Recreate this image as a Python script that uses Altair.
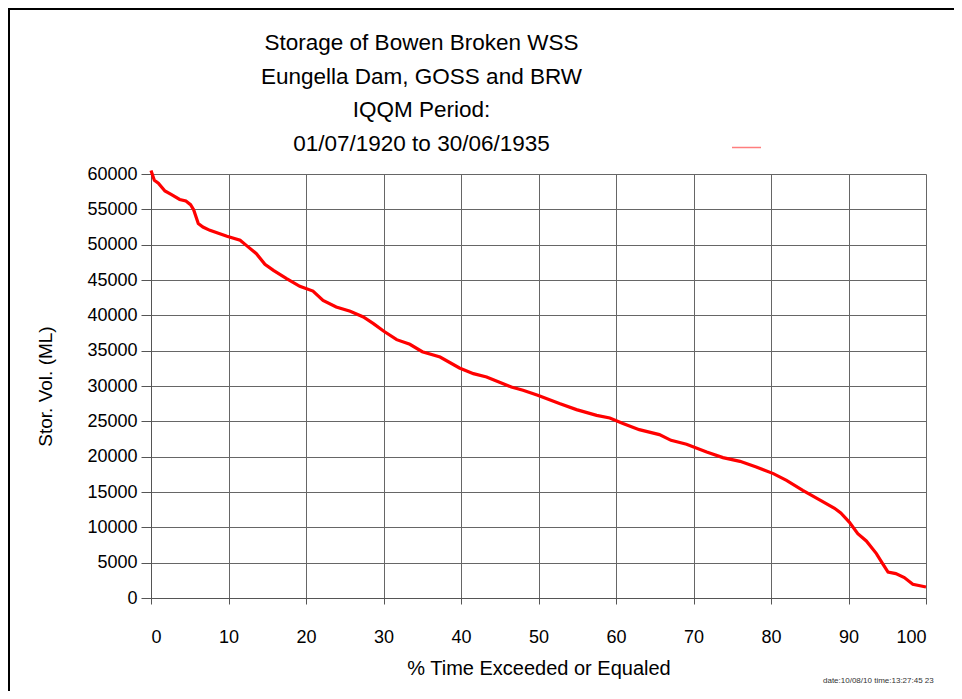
import altair as alt
import pandas as pd

# ---- data ----
pct_time = [0, 0.43, 0.95, 1.8, 2.65, 3.7, 4.5, 5.1, 5.5, 6.1, 6.7, 7.6, 9.8,
            11.5, 12.3, 13.6, 14.7, 15.8, 17.5, 19.2, 20.9, 22.2, 23.9, 25.7,
            27.4, 28.7, 30.0, 31.7, 33.4, 35.0, 37.3, 39.8, 41.6, 43.3, 46.5,
            48.0, 49.9, 52.7, 54.9, 57.5, 59.2, 60.9, 63.0, 65.6, 67.1, 69.1,
            71.7, 73.8, 76.0, 78.1, 80.3, 82.0, 84.1, 86.5, 88.2, 89.0, 90.1,
            91.2, 92.3, 93.6, 94.4, 95.1, 96.1, 97.2, 98.3, 100]
storage_ml = [60500, 59100, 58700, 57600, 57080, 56400, 56170, 55660, 54950,
              52980, 52500, 52030, 51180, 50620, 49900, 48730, 47220, 46370,
              45200, 44100, 43440, 42120, 41180, 40570, 39760, 38830, 37780,
              36560, 35900, 34850, 34100, 32550, 31750, 31270, 29860, 29390,
              28680, 27510, 26660, 25850, 25470, 24680, 23820, 23120, 22310,
              21750, 20660, 19870, 19340, 18540, 17600, 16650, 15240, 13750,
              12700, 12030, 10750, 9110, 8070, 6280, 4870, 3680, 3450, 2890,
              1940, 1560]
x_ticks = list(range(0, 101, 10))
y_ticks = list(range(0, 60001, 5000))
title_lines = ["Storage of Bowen Broken WSS", "Eungella Dam, GOSS and BRW",
               "IQQM Period:", "01/07/1920 to 30/06/1935"]
x_title = "% Time Exceeded or Equaled"
y_title = "Stor. Vol. (ML)"
series_names = ["Storage"]
stamp_text = ["date:10/08/10  time:13:27:45 23"]

df = pd.DataFrame({"pct": pct_time, "vol": storage_ml, "series": series_names[0]})

FONT = "Liberation Sans"
W, H = 775, 424
PAD = {"left": 143, "top": 166, "right": 28, "bottom": 93}

line = alt.Chart(df).mark_line(strokeWidth=3.2, clip=False).encode(
    x=alt.X("pct:Q", scale=alt.Scale(domain=[0, 100], nice=False, zero=False),
            axis=alt.Axis(values=x_ticks, title=x_title, tickSize=6,
                          labelPadding=24, labelFontSize=18, titleFontSize=20,
                          titlePadding=12)),
    y=alt.Y("vol:Q", scale=alt.Scale(domain=[0, 60000], nice=False),
            axis=alt.Axis(values=y_ticks, format="d", title=y_title, tickSize=10,
                          labelPadding=4, labelFontSize=18, titleFontSize=19,
                          titlePadding=31)),
    color=alt.Color("series:N", scale=alt.Scale(range=["#ff0000"]),
                    legend=alt.Legend(orient="none", legendX=580, legendY=-42,
                                      title=None, labelExpr="''",
                                      symbolType="stroke", symbolSize=841,
                                      symbolStrokeWidth=1.5, symbolOpacity=0.5,
                                      padding=0)),
)

one = pd.DataFrame({"k": [0]})
top_rule = alt.Chart(one).mark_rule(color="black", strokeWidth=2).encode(
    x=alt.value(-PAD["left"]), x2=alt.value(W + PAD["right"]),
    y=alt.value(-PAD["top"] + 1))
left_rule = alt.Chart(one).mark_rule(color="black", strokeWidth=2).encode(
    x=alt.value(-PAD["left"] + 1), y=alt.value(-PAD["top"]),
    y2=alt.value(H + PAD["bottom"]))

stamp = alt.Chart(pd.DataFrame({"t": stamp_text})).mark_text(
    align="left", baseline="middle", fontSize=8, font=FONT, color="#333"
).encode(text="t:N", x=alt.value(672), y=alt.value(507))

chart = alt.layer(line, top_rule, left_rule, stamp).properties(
    width=W, height=H, padding=PAD,
    autosize=alt.AutoSizeParams(type="none"),
    title=alt.Title(title_lines, fontSize=22.5, lineHeight=33.5, font=FONT,
                    fontWeight="normal", color="black", anchor="middle",
                    frame="group", dx=-117, offset=0, dy=148),
).configure_axis(
    gridColor="#666", gridOpacity=1, domainColor="#555", tickColor="#555",
    labelColor="black", titleColor="black", labelFont=FONT, titleFont=FONT,
    titleFontWeight="normal",
).configure_view(stroke=None)

chart.save("out.html", embed_options={"renderer": "svg", "actions": False})
